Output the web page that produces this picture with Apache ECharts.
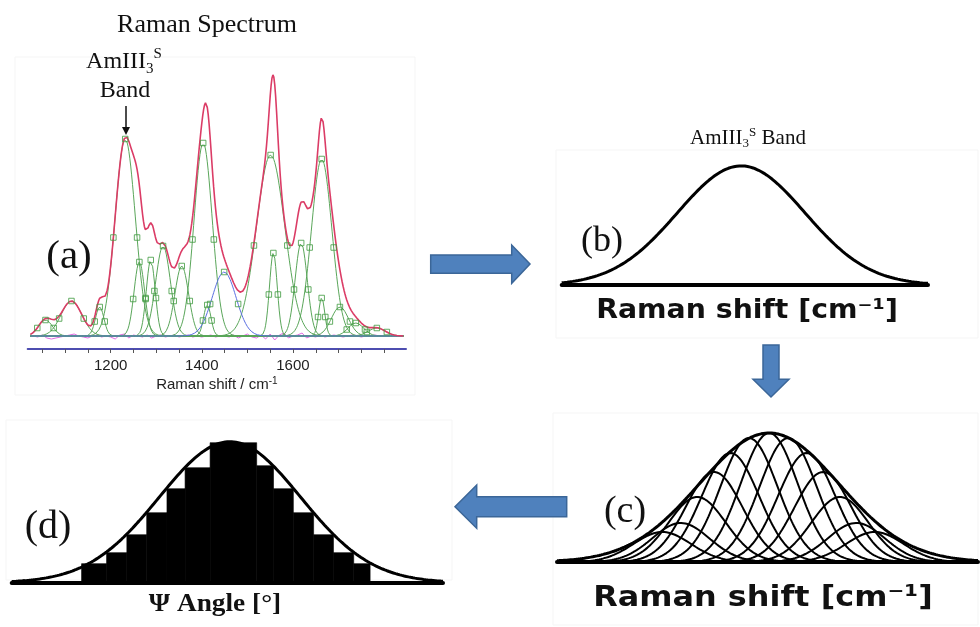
<!DOCTYPE html>
<html>
<head>
<meta charset="utf-8">
<script src="https://cdn.jsdelivr.net/npm/echarts@6/dist/echarts.min.js"></script>
<style>
  html, body { margin: 0; padding: 0; background: #fff; }
  #chart { width: 980px; height: 627px; }
</style>
</head>
<body>
<div id="chart"></div>
<script>
// ---------- Panel (a): Raman spectrum and its fitted bands ----------
// Each band: centre (cm-1), peak height (a.u.), half width at half maximum (cm-1)
const bandCenters    = [1057, 1114, 1176, 1232, 1263, 1288, 1315, 1356, 1403, 1412, 1551, 1557, 1618, 1663, 1663, 1703, 1738, 1784];
const bandHeights    = [16,   35,   29,   197,  74,   76,   90,   70,   193,  31,   181,  83,   93,   177,  38,   29,   13,   8];
const bandHalfWidths = [18,   27,   11,   26,   13.6, 11.4, 19,   17.6, 23.4, 9.5,  36.6, 9.9,  15.7, 26.3, 8,    22,   20,   22];
// The band drawn in blue
const blueCenter = 1449, blueHeight = 64, blueHalfWidth = 30.7;
// Fit residual, every 10 cm-1 from 1030 cm-1
const residualStart = 1030, residualStep = 10;
const residual = [0, -1, 1, -2, -3, -2, -1, 0, 1, 2, 0, -1, -2, 0, 1, -1, 0, -1, -3, 1,
                  2, -2, 1, 0, -1, 1, -2, 0, 1, -1, 0, 1, -1, 0, 1, -1, 0, -1, 0, 1,
                  -1, 0, 0, -1, 1, -2, 0, 2, -1, -2, 1, -3, 2, -4, 1, 3, -2, 0, 1, 3,
                  -2, 0, -1, 1, -1, 0, 1, 0, -1, 0, 1, 0, -1, 0, 0, 1, 0, 0];
const spectrumTicks  = [1050, 1100, 1150, 1200, 1250, 1300, 1350, 1400, 1450, 1500, 1550, 1600, 1650, 1700, 1750, 1800];
const spectrumLabels = [1200, 1400, 1600];

// ---------- Panel (b): the AmIII3S band on its own ----------
const singleCenter = 49, singleHeight = 1, singleHalfWidth = 20.5;

// ---------- Panel (c): the band split into sub-bands ----------
const subCenters  = [25.0, 29.4, 33.3, 37.3, 41.2, 45.6, 50.4, 54.9, 59.3, 63.2, 67.2, 71.1, 75.5];
const subHeights  = [30,   39,   65,   90,   109,  124,  129,  124,  109,  90,   65,   39,   30];
const subHalfWidth = 8;
const envCenter = 50.4, envHeight = 129, envHalfWidth = 19.5;

// ---------- Panel (d): Psi-angle distribution ----------
const binEdges  = [16.2, 22.0, 26.7, 31.3, 36.0, 40.2, 46.0, 56.8, 60.7, 65.3, 70.0, 74.6, 79.3, 83.1];
const binCounts = [19, 30, 48, 70, 94, 115, 140, 117, 94, 70, 48, 30, 19];
const angleCenter = 50.6, angleHeight = 141, angleHalfWidth = 19.3;

// Gaussian band profile
function gauss(x, c, h, hw) {
  const t = (x - c) / hw;
  return h * Math.exp(-Math.LN2 * t * t);
}
function sampleBand(c, h, hw, min, max, step) {
  const pts = [];
  for (let x = min; x <= max + 1e-9; x += step) pts.push([+x.toFixed(3), gauss(x, c, h, hw)]);
  return pts;
}

const series = [];

// --- (a) ---
const aMin = 1024, aMax = 1842, aStep = 2;
series.push({
  type: 'line', xAxisIndex: 0, yAxisIndex: 0, symbol: 'none', silent: true,
  data: [[aMin, 0], [aMax, 0]], lineStyle: { color: '#2d6a2f', width: 1.4 }, z: 3
});
bandCenters.forEach((c, i) => {
  series.push({
    type: 'line', xAxisIndex: 0, yAxisIndex: 0, symbol: 'none', silent: true,
    data: sampleBand(c, bandHeights[i], bandHalfWidths[i], aMin, aMax, aStep),
    lineStyle: { color: '#5aa65a', width: 1 }, z: 4
  });
});
series.push({
  type: 'line', xAxisIndex: 0, yAxisIndex: 0, symbol: 'none', silent: true,
  data: sampleBand(blueCenter, blueHeight, blueHalfWidth, aMin, aMax, aStep),
  lineStyle: { color: '#5a6fe2', width: 1 }, z: 4
});
series.push({
  type: 'line', xAxisIndex: 0, yAxisIndex: 0, symbol: 'none', silent: true,
  data: residual.map((v, i) => [residualStart + i * residualStep, v]),
  lineStyle: { color: '#e36ce3', width: 1 }, z: 3
});
// envelope = sum of the fitted bands
const envelope = [];
for (let x = aMin; x <= aMax; x += aStep) {
  let s = gauss(x, blueCenter, blueHeight, blueHalfWidth);
  bandCenters.forEach((c, i) => { s += gauss(x, c, bandHeights[i], bandHalfWidths[i]); });
  envelope.push([x, s]);
}
series.push({
  type: 'line', xAxisIndex: 0, yAxisIndex: 0, symbol: 'none', silent: true,
  data: envelope, lineStyle: { color: '#db3c66', width: 1.6 }, z: 6
});
// markers at each band's maximum and half-maximum points
const markers = [];
bandCenters.concat([blueCenter]).forEach((c, i) => {
  const h = i < bandCenters.length ? bandHeights[i] : blueHeight;
  const hw = i < bandCenters.length ? bandHalfWidths[i] : blueHalfWidth;
  markers.push([c, h], [c - hw, h / 2], [c + hw, h / 2]);
});
series.push({
  type: 'scatter', xAxisIndex: 0, yAxisIndex: 0, symbol: 'rect', symbolSize: 5.5, silent: true,
  data: markers, itemStyle: { color: 'rgba(255,255,255,0)', borderColor: '#3f9a3f', borderWidth: 1 }, z: 7
});

// --- (b) ---
series.push({
  type: 'line', xAxisIndex: 1, yAxisIndex: 1, symbol: 'none', silent: true, clip: false,
  data: sampleBand(singleCenter, singleHeight, singleHalfWidth, 0, 100, 0.25),
  lineStyle: { color: '#000', width: 3 }
});

// --- (c) ---
subCenters.forEach((c, i) => {
  series.push({
    type: 'line', xAxisIndex: 2, yAxisIndex: 2, symbol: 'none', silent: true, clip: false,
    data: sampleBand(c, subHeights[i], subHalfWidth, 0, 100, 0.25),
    lineStyle: { color: '#000', width: 2 }
  });
});
series.push({
  type: 'line', xAxisIndex: 2, yAxisIndex: 2, symbol: 'none', silent: true, clip: false,
  data: sampleBand(envCenter, envHeight, envHalfWidth, 0, 100, 0.25),
  lineStyle: { color: '#000', width: 3 }
});

// --- (d) ---
series.push({
  type: 'custom', xAxisIndex: 3, yAxisIndex: 3, silent: true,
  data: binCounts.map((v, i) => [binEdges[i], binEdges[i + 1], v]),
  encode: { x: [0, 1], y: 2 },
  renderItem: (params, api) => {
    const p0 = api.coord([api.value(0), api.value(2)]);
    const p1 = api.coord([api.value(1), 0]);
    return {
      type: 'rect',
      shape: { x: p0[0], y: p0[1], width: p1[0] - p0[0], height: p1[1] - p0[1] },
      style: { fill: '#000', stroke: '#000', lineWidth: 0.6 }
    };
  }
});
series.push({
  type: 'line', xAxisIndex: 3, yAxisIndex: 3, symbol: 'none', silent: true, clip: false,
  data: sampleBand(angleCenter, angleHeight, angleHalfWidth, 0, 100, 0.25),
  lineStyle: { color: '#000', width: 3 }, z: 3
});

const serif = 'Liberation Serif';
const plainAxis = (idx) => ({
  gridIndex: idx, type: 'value', min: 0, max: 100,
  axisLine: { show: true, onZero: false, lineStyle: { color: '#000', width: 4 } },
  axisTick: { show: false }, axisLabel: { show: false }, splitLine: { show: false }
});
const hiddenY = (idx, min, max) => ({
  gridIndex: idx, type: 'value', min, max, show: false, splitLine: { show: false }
});

const arrowStyle = { fill: '#4f81bd', stroke: '#3b6698', lineWidth: 1.5 };
const txt = (x, y, text, font, extra, elProps) => Object.assign({
  type: 'text', x, y, silent: true,
  style: Object.assign({ text, font, fill: '#111', align: 'center', verticalAlign: 'middle' }, extra || {})
}, elProps || {});
const frame = (x, y, w, h) => ({
  type: 'rect', silent: true, z: -10,
  shape: { x, y, width: w, height: h },
  style: { fill: 'none', stroke: '#f5f5f5', lineWidth: 1 }
});

const option = {
  backgroundColor: '#fff',
  animation: false,
  grid: [
    { left: 27.7, right: 574, top: 66, bottom: 278 },
    { left: 561.7, right: 52, top: 154, bottom: 342 },
    { left: 557, right: 2, top: 422, bottom: 65 },
    { left: 11.7, right: 537, top: 432.7, bottom: 44.3 }
  ],
  xAxis: [
    {
      gridIndex: 0, type: 'value', min: 1018, max: 1848,
      axisLine: { show: true, onZero: false, lineStyle: { color: '#4d4db0', width: 2 } },
      axisTick: { show: true, customValues: spectrumTicks, length: 4, lineStyle: { color: '#555' } },
      axisLabel: {
        customValues: spectrumLabels, fontSize: 15, color: '#222', margin: 9,
        fontFamily: 'Liberation Sans', formatter: (v) => String(v)
      },
      splitLine: { show: false },
      name: '{n|Raman shift / cm}{s|-1}', nameLocation: 'middle', nameGap: 27,
      nameTextStyle: {
        rich: {
          n: { fontSize: 15, fontFamily: 'Liberation Sans', color: '#222', lineHeight: 18 },
          s: { fontSize: 10, fontFamily: 'Liberation Sans', color: '#222', verticalAlign: 'top', lineHeight: 10 }
        }
      }
    },
    plainAxis(1), plainAxis(2), plainAxis(3)
  ],
  yAxis: [
    hiddenY(0, -13, 270), hiddenY(1, 0, 1.1), hiddenY(2, 0, 140), hiddenY(3, 0, 150)
  ],
  series,
  graphic: [
    frame(15, 57, 400, 338), frame(556, 150, 422, 188), frame(553, 413, 425, 212), frame(6, 420, 446, 160),
    // panel (a) titles
    txt(207, 25, 'Raman Spectrum', `26px "${serif}"`),
    {
      type: 'text', x: 124, y: 62, silent: true,
      style: {
        text: '{m|AmIII}{b|3}{p|S}', align: 'center', verticalAlign: 'middle', fill: '#111',
        rich: {
          m: { fontSize: 24, fontFamily: serif, lineHeight: 30 },
          b: { fontSize: 15, fontFamily: serif, lineHeight: 15, verticalAlign: 'bottom' },
          p: { fontSize: 15, fontFamily: serif, lineHeight: 15, verticalAlign: 'top' }
        }
      }
    },
    txt(125, 91, 'Band', `24px "${serif}"`),
    { type: 'line', silent: true, shape: { x1: 126, y1: 106, x2: 126, y2: 128 }, style: { stroke: '#111', lineWidth: 1.5 } },
    { type: 'polygon', silent: true, shape: { points: [[122, 127], [130, 127], [126, 135]] }, style: { fill: '#111' } },
    txt(69, 257, '(a)', `41px "${serif}"`),
    // panel (b)
    {
      type: 'text', x: 748, y: 138, silent: true,
      style: {
        text: '{m|AmIII}{b|3}{p|S}{m| Band}', align: 'center', verticalAlign: 'middle', fill: '#111',
        rich: {
          m: { fontSize: 21, fontFamily: serif, lineHeight: 24 },
          b: { fontSize: 13, fontFamily: serif, lineHeight: 13, verticalAlign: 'bottom' },
          p: { fontSize: 13, fontFamily: serif, lineHeight: 13, verticalAlign: 'top' }
        }
      }
    },
    txt(602, 242, '(b)', `36px "${serif}"`),
    txt(747, 311, 'Raman shift [cm\u207B\u00B9]', 'bold 26px "DejaVu Sans"', null, { scaleX: 1.09 }),
    // panel (c)
    txt(625, 512, '(c)', `38px "${serif}"`),
    txt(763, 598, 'Raman shift [cm\u207B\u00B9]', 'bold 29px "DejaVu Sans"', null, { scaleX: 1.1 }),
    // panel (d)
    txt(48, 527, '(d)', `40px "${serif}"`),
    txt(215, 604, '\u03A8 Angle [\u00B0]', `bold 26px "${serif}"`, null, { scaleX: 1.05 }),
    // arrows between panels
    { type: 'polygon', silent: true, shape: { points: [[430.7, 255], [511.7, 255], [511.7, 245], [530, 264], [511.7, 283.3], [511.7, 273.3], [430.7, 273.3]] }, style: arrowStyle },
    { type: 'polygon', silent: true, shape: { points: [[763, 345], [779, 345], [779, 379.3], [789, 379.3], [771, 397], [753, 379.3], [763, 379.3]] }, style: arrowStyle },
    { type: 'polygon', silent: true, shape: { points: [[566.7, 496.7], [476.7, 496.7], [476.7, 485], [455, 506.7], [476.7, 528.3], [476.7, 516.7], [566.7, 516.7]] }, style: arrowStyle }
  ]
};

const chart = echarts.init(document.getElementById('chart'), null, { renderer: 'canvas' });
chart.setOption(option);
</script>
</body>
</html>
